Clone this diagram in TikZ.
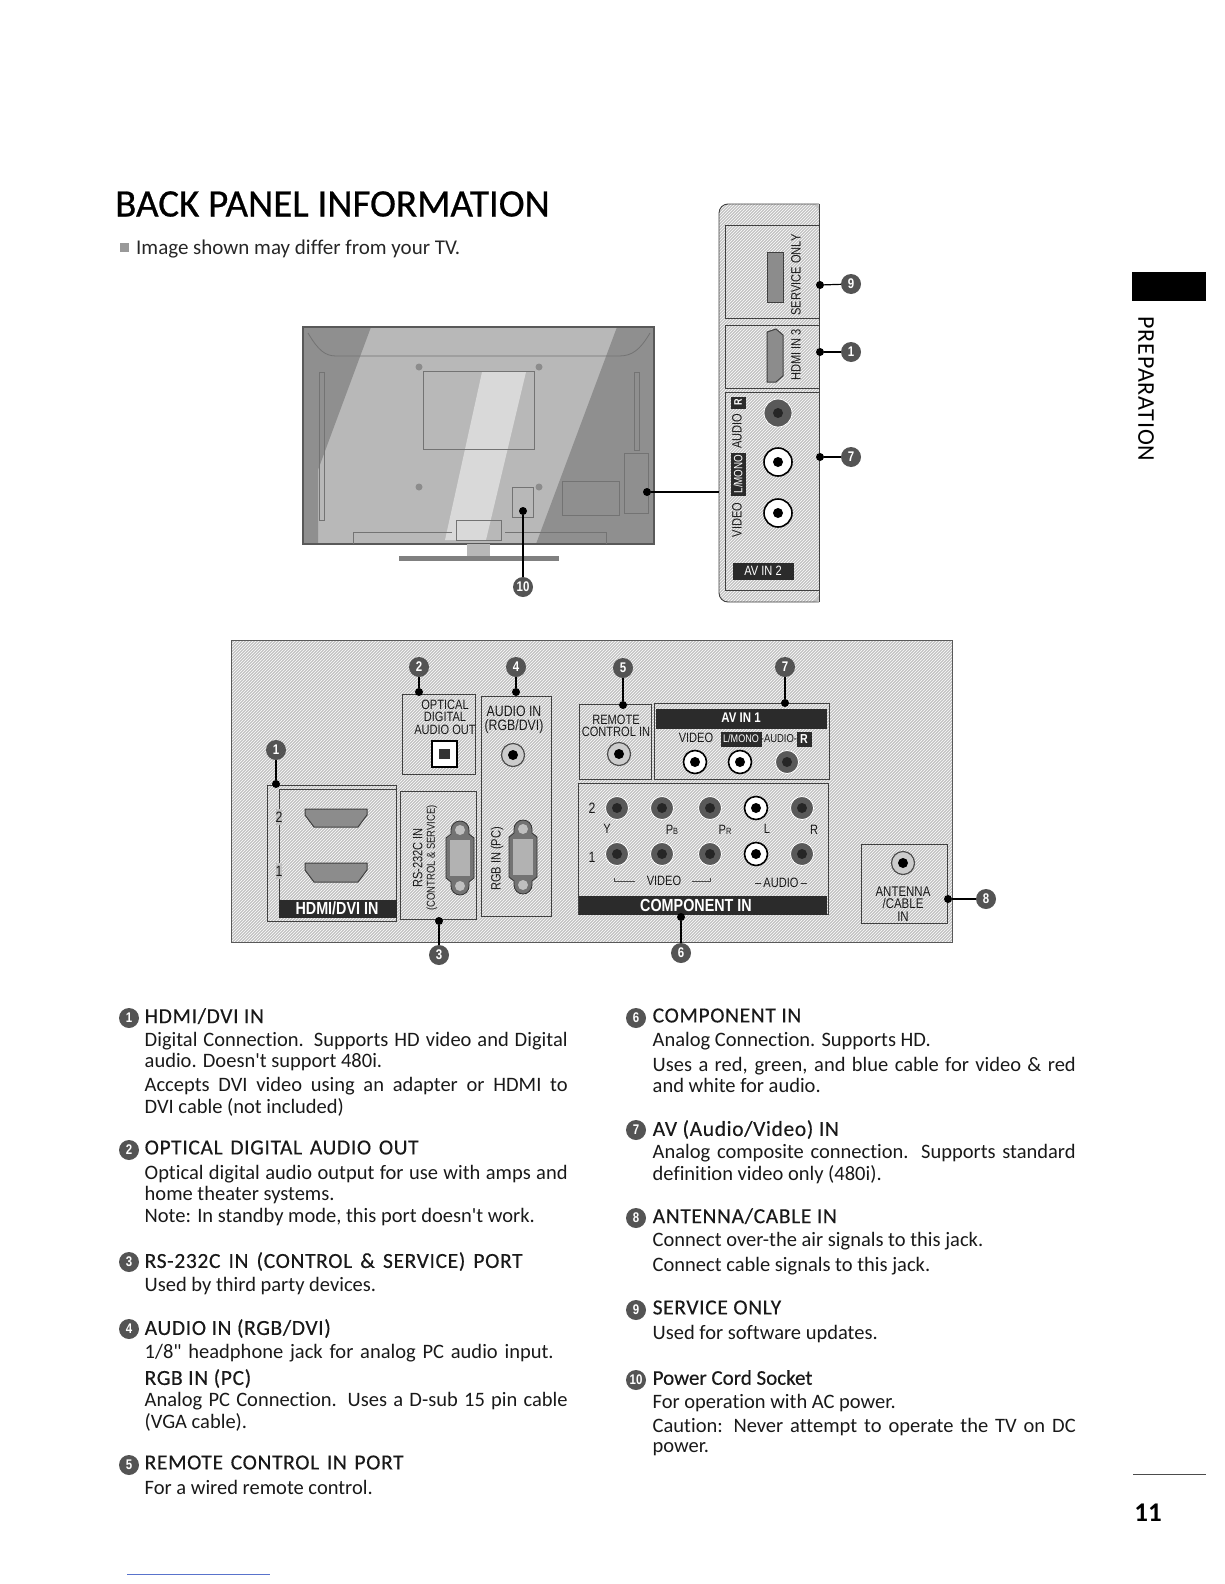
\documentclass[tikz,border=0pt]{standalone}
\usepackage{fontspec}
\usetikzlibrary{patterns}
\setmainfont[Ligatures={TeXOff,NoCommon}]{Carlito}
\newfontfamily\lblfont[FakeStretch=0.82]{Liberation Sans}
\definecolor{panelgray}{gray}{.76}
\definecolor{bargray}{gray}{.17}
\definecolor{numgray}{gray}{.33}
\definecolor{tvgray}{gray}{.72}
\definecolor{tvdark}{gray}{.56}
\definecolor{tvlight}{gray}{.85}
\definecolor{pagerule}{rgb}{.35,.45,.8}
\newcommand{\fit}[2]{\makebox[#1pt][s]{#2}}
\begin{document}
\begin{tikzpicture}[
x=1pt,y=-1pt,
bodytxt/.style={anchor=north west,inner sep=0,align=left,font=\fontsize{20.5}{20.3}\selectfont,text=black!90},
headtxt/.style={bodytxt,font=\fontsize{21.5}{20.3}\selectfont\addfontfeature{LetterSpace=3,FakeBold=.3}},
num/.style={circle,fill=numgray,text=white,inner sep=0,minimum size=20pt,font=\lblfont\bfseries\fontsize{14}{14}\selectfont},
dot/.style={circle,fill=black,inner sep=0,minimum size=8pt},
conn/.style={line width=1.2pt},
lbl/.style={inner sep=0,align=center,text=black!90,font=\lblfont\fontsize{13.5}{12.5}\selectfont},
barlbl/.style={inner sep=0,text=white,font=\lblfont\bfseries\fontsize{17.5}{17.5}\selectfont},
box/.style={draw=black!75,line width=.9pt},
bar/.style={fill=bargray,draw=bargray},
port/.style={draw=black!75,fill=black!45,line width=1pt},
faint/.style={draw=black!55,line width=.5pt},
hatch/.style={pattern=north east lines,pattern color=white},
jackw/.style={circle,inner sep=0,minimum size=23pt,draw=black,line width=1.6pt,fill=white,
 path picture={\fill[black] (path picture bounding box.center) circle (5pt);}},
jackd/.style={circle,inner sep=0,minimum size=23pt,draw=white,line width=.8pt,fill=black!65,
 path picture={\fill[black!85] (path picture bounding box.center) circle (5pt);}},
jackg/.style={circle,inner sep=0,minimum size=23pt,draw=black!70,line width=1.2pt,fill=black!20,
 path picture={\fill[black] (path picture bounding box.center) circle (5pt);}},
dsub/.pic={
 \draw[draw=black!80,fill=black!55,line width=.8pt] (-9,-28) arc[start angle=180,end angle=360,radius=9] -- (9,-24) -- (14,-20) -- (14,20) -- (9,24) -- (9,28) arc[start angle=0,end angle=180,radius=9] -- (-9,24) -- (-14,20) -- (-14,-20) -- (-9,-24) -- cycle;
 \fill[black!30] (-10,-18) rectangle (10,18);
 \fill[black!25] (0,-28) circle (5pt) (0,28) circle (5pt);
}
]
\useasboundingbox (0,0) rectangle (1224,1584);

% heading
\node[anchor=west,inner sep=0,font=\fontsize{39}{40}\selectfont\addfontfeature{FakeBold=.6}] (title) at (115,204) {BACK PANEL INFORMATION};
\fill[black!40] (120,243) rectangle (129,252);
\node[anchor=west,inner sep=0,font=\fontsize{21}{21}\selectfont,text=black!85] (note) at (136,249) {Image shown may differ from your TV.};

% tv back
\fill[tvgray] (303,327) rectangle (654,544);
\fill[tvdark] (303,327) -- (371,327) -- (318,470) -- (318,544) -- (303,544) -- cycle;
\fill[tvdark] (617,327) -- (654,327) -- (654,544) -- (536,544) -- cycle;
\fill[tvlight] (482,372) -- (526,372) -- (486,540) -- (445,540) -- cycle;
\draw[black!65,line width=1.5pt] (303,327) rectangle (654,544);
\draw[faint,line width=.8pt] (308,333) .. controls (318,350) and (325,356) .. (336,356) -- (619,356) .. controls (632,356) and (640,350) .. (650,333);
\draw[faint] (423,371) rectangle (534,449);
\draw[faint] (319,372) rectangle (324,520);
\draw[faint] (634,372) rectangle (639,450);
\draw[faint] (624,453) rectangle (648,513);
\draw[faint] (562,481) rectangle (619,515);
\draw[faint] (512,487) rectangle (533,517);
\draw[faint] (353,544) -- (353,532) -- (452,532);
\draw[faint] (606,544) -- (606,532) -- (505,532);
\draw[faint] (456,520) rectangle (501,540);
\fill[black!45] (419,367) circle (3.5pt) (539,367) circle (3.5pt) (419,487) circle (3.5pt) (539,487) circle (3.5pt);
\fill[tvgray] (467,544) rectangle (490,557);
\fill[black!50] (399,556) rectangle (559,561);

% side panel
\fill[panelgray,rounded corners=9pt] (823,204) -- (719,204) -- (719,602) -- (823,602) -- cycle;
\fill[white] (819,204) rectangle (824,602);
\path[hatch,rounded corners=9pt] (819,204) -- (719,204) -- (719,602) -- (819,602) -- cycle;
\draw[box,rounded corners=9pt] (819,204) -- (719,204) -- (719,602) -- (819,602);
\draw[box] (819,204) -- (819,602);
\draw[box] (725,225) rectangle (819,318);
\draw[box] (725,325) rectangle (819,388);
\draw[box] (725,392) rectangle (819,590);
\draw[port] (767,252) rectangle (783,302);
\draw[port] (767,332) -- (776,329) -- (783,335) -- (783,376) -- (776,382) -- (767,382) -- cycle;
\node[lbl,rotate=90] (service) at (796,275) {SERVICE ONLY};
\node[lbl,rotate=90] (hdmi3) at (796,355) {HDMI IN 3};
\node[lbl,rotate=90] (sidevideo) at (737,520) {VIDEO};
\draw[bar] (731,453) rectangle (745,495);
\node[lbl,rotate=90,text=white,font=\lblfont\fontsize{12}{12}\selectfont] (sidemono) at (738,474) {L/MONO};
\node[lbl,rotate=90] (sideaudio) at (737,431) {AUDIO};
\draw[bar] (731,397) rectangle (745,408);
\node[lbl,rotate=90,text=white,font=\lblfont\bfseries\fontsize{11}{11}\selectfont] (sider) at (738,402.5) {R};
\node[jackd,minimum size=28pt] (sj1) at (778,413) {};
\node[jackw,minimum size=28pt] (sj2) at (778,462) {};
\node[jackw,minimum size=28pt] (sj3) at (778,513) {};
\draw[bar] (733,563) rectangle (793,579);
\node[barlbl,font=\lblfont\fontsize{13.5}{13}\selectfont] (avin2) at (763,571) {AV IN 2};

% side numbers
\node[dot] (dot9) at (820,285) {};
\node[num] (num9) at (851,284) {9};
\node[dot] (dot1b) at (820,352) {};
\node[num] (num1b) at (851,352) {1};
\node[dot] (dot7b) at (820,457) {};
\node[num] (num7b) at (851,457) {7};
\draw[conn] (dot9)--(num9);
\draw[conn] (dot1b)--(num1b);
\draw[conn] (dot7b)--(num7b);
\node[dot] (dot10) at (523,511) {};
\node[num] (num10) at (523,587) {10};
\draw[conn] (dot10)--(num10);
\node[dot] (dottv) at (647,492) {};
\coordinate (tvport) at (719,492);
\draw[conn] (dottv)--(tvport);

% main panel
\fill[panelgray] (231,640) rectangle (952,942);
\path[hatch] (231,640) rectangle (952,942);
\draw[black!65,line width=1pt] (231,640) rectangle (952,942);

% hdmi
\draw[box] (267,785) rectangle (396,921);
\draw[box] (279,789) -- (396,789) -- (396,917) -- (279,917) -- cycle;
\draw[bar] (279,900) rectangle (396,917);
\node[barlbl] (hdmilbl) at (337,908) {HDMI/DVI IN};
\node[lbl,fill=panelgray,inner ysep=3pt,font=\lblfont\fontsize{15}{15}\selectfont] (hdmi2) at (279,817) {2};
\node[lbl,fill=panelgray,inner ysep=3pt,font=\lblfont\fontsize{15}{15}\selectfont] (hdmi1) at (279,871) {1};
\draw[port] (305,809) -- (367,809) -- (367,815) -- (358,827) -- (314,827) -- (305,815) -- cycle;
\draw[port] (305,863) -- (367,863) -- (367,870) -- (358,882) -- (314,882) -- (305,870) -- cycle;

% optical
\draw[box] (402,694) rectangle (475,774);
\node[lbl] (optical) at (445,717) {OPTICAL\\DIGITAL\\AUDIO OUT};
\draw[draw=black,fill=white,line width=2pt] (432,741) rectangle (457,767);
\fill[black!80] (439,749) rectangle (450,759);

% rs232
\draw[box] (400,791) rectangle (476,919);
\node[lbl,rotate=90] (rs232) at (425,858) {RS-232C IN\\{\fontsize{11.5}{12}\selectfont(CONTROL \& SERVICE)}};
\pic at (460,858) {dsub};

% audio in
\draw[box] (481,696) rectangle (551,916);
\node[lbl,font=\lblfont\fontsize{15}{14}\selectfont] (audioin) at (514,720) {AUDIO IN\\(RGB/DVI)};
\node[jackg] (audiojack) at (513,755) {};
\node[lbl,rotate=90] (rgbin) at (497,859) {RGB IN (PC)};
\pic at (523,857) {dsub};

% remote
\draw[box] (579,704) rectangle (651,779);
\node[lbl] (remote) at (616,726) {REMOTE\\CONTROL IN};
\node[jackg] (remotejack) at (619,754) {};

% av in 1
\draw[box] (654,703) rectangle (829,779);
\draw[bar] (656,709) rectangle (826,728);
\node[barlbl,font=\lblfont\bfseries\fontsize{14}{14}\selectfont] (avin1) at (741,718) {AV IN 1};
\node[lbl] (avvideo) at (696,738) {VIDEO};
\draw[bar] (721,732) rectangle (761,746);
\node[lbl,text=white,font=\lblfont\fontsize{11}{11}\selectfont] (avmono) at (741,739) {L/MONO};
\node[lbl,font=\lblfont\fontsize{11.5}{11}\selectfont] (avaudio) at (779,739) {-AUDIO-};
\draw[bar] (797,732) rectangle (811,746);
\node[lbl,text=white,font=\lblfont\bfseries\fontsize{13}{13}\selectfont] (avr) at (804,739) {R};
\node[jackw] (av1) at (695,762) {};
\node[jackw] (av2) at (740,762) {};
\node[jackd] (av3) at (787,762) {};

% component
\draw[box] (578,783) rectangle (828,914);
\draw[bar] (579,896) rectangle (826,914);
\node[barlbl] (complbl) at (696,905) {COMPONENT IN};
\node[lbl,font=\lblfont\fontsize{15}{15}\selectfont] (row2) at (592,808) {2};
\node[lbl,font=\lblfont\fontsize{15}{15}\selectfont] (row1) at (592,857) {1};
\node[jackd] (c21) at (617,808) {};
\node[jackd] (c22) at (662,808) {};
\node[jackd] (c23) at (710,808) {};
\node[jackw] (c24) at (756,808) {};
\node[jackd] (c25) at (802,808) {};
\node[jackd] (c11) at (617,854) {};
\node[jackd] (c12) at (662,854) {};
\node[jackd] (c13) at (710,854) {};
\node[jackw] (c14) at (756,854) {};
\node[jackd] (c15) at (802,854) {};
\node[lbl] (ly) at (607,829) {Y};
\node[lbl] (lpb) at (672,830) {P{\fontsize{9}{9}\selectfont B}};
\node[lbl] (lpr) at (725,830) {P{\fontsize{9}{9}\selectfont R}};
\node[lbl] (ll) at (767,829) {L};
\node[lbl] (lr) at (814,830) {R};
\node[lbl] (compvideo) at (664,881) {VIDEO};
\node[lbl] (compaudio) at (781,883) {–\,AUDIO\,–};
\draw[black!70] (614,878) -- (614,881) -- (635,881);
\draw[black!70] (692,881) -- (710,881) -- (710,878);

% antenna
\draw[box] (861,844) rectangle (947,923);
\node[jackg] (antjack) at (903,863) {};
\node[lbl,font=\lblfont\fontsize{14}{12.5}\selectfont] (antenna) at (903,904) {ANTENNA\\/CABLE\\IN};

% panel numbers
\node[num] (num1) at (276,750) {1};
\node[dot] (dot1) at (276,784) {};
\node[num] (num2) at (419,667) {2};
\node[dot] (dot2) at (419,692) {};
\node[num] (num4) at (516,667) {4};
\node[dot] (dot4) at (516,692) {};
\node[num] (num5) at (623,668) {5};
\node[dot] (dot5) at (623,705) {};
\node[num] (num7) at (785,667) {7};
\node[dot] (dot7) at (785,703) {};
\node[num] (num3) at (439,955) {3};
\node[dot] (dot3) at (439,921) {};
\node[num] (num6) at (681,953) {6};
\node[dot] (dot6) at (681,917) {};
\node[num] (num8) at (986,899) {8};
\node[dot] (dot8) at (948,899) {};
\draw[conn] (num1)--(dot1);
\draw[conn] (num2)--(dot2);
\draw[conn] (num4)--(dot4);
\draw[conn] (num5)--(dot5);
\draw[conn] (num7)--(dot7);
\draw[conn] (num3)--(dot3);
\draw[conn] (num6)--(dot6);
\draw[conn] (num8)--(dot8);

% left column
\node[num] (li1) at (129,1018) {1};
\node[headtxt] (h1) at (144.5,1008) {\strut HDMI/DVI IN};
\node[bodytxt] (p1a) at (144.5,1032) {\strut\fit{423}{Digital Connection. Supports HD video and Digital}\\audio. Doesn't support 480i.};
\node[bodytxt] (p1b) at (144.5,1077) {\strut\fit{423}{Accepts DVI video using an adapter or HDMI to}\\DVI cable (not included)};
\node[num] (li2) at (129,1150) {2};
\node[headtxt] (h2) at (144.5,1140) {\strut\fit{274}{OPTICAL DIGITAL AUDIO OUT}};
\node[bodytxt] (p2a) at (144.5,1165) {\strut\fit{423}{Optical digital audio output for use with amps and}\\home theater systems.};
\node[bodytxt] (p2b) at (144.5,1208) {\strut Note: In standby mode, this port doesn't work.};
\node[num] (li3) at (129,1262) {3};
\node[headtxt] (h3) at (144.5,1252) {\strut\fit{378}{RS-232C IN (CONTROL \& SERVICE) PORT}};
\node[bodytxt] (p3) at (144.5,1277) {\strut Used by third party devices.};
\node[num] (li4) at (129,1329) {4};
\node[headtxt] (h4) at (144.5,1319) {\strut AUDIO IN (RGB/DVI)};
\node[bodytxt] (p4a) at (144.5,1344) {\strut\fit{409}{1/8" headphone jack for analog PC audio input.}};
\node[headtxt] (h4b) at (144.5,1369) {\strut RGB IN (PC)};
\node[bodytxt] (p4b) at (144.5,1392) {\strut\fit{423}{Analog PC Connection. Uses a D-sub 15 pin cable}\\(VGA cable).};
\node[num] (li5) at (129,1465) {5};
\node[headtxt] (h5) at (144.5,1455) {\strut\fit{259}{REMOTE CONTROL IN PORT}};
\node[bodytxt] (p5) at (144.5,1480) {\strut For a wired remote control.};

% right column
\node[num] (li6) at (636,1018) {6};
\node[headtxt] (h6) at (652.5,1008) {\strut COMPONENT IN};
\node[bodytxt] (p6a) at (652.5,1032) {\strut Analog Connection. Supports HD.};
\node[bodytxt] (p6b) at (652.5,1057) {\strut\fit{423}{Uses a red, green, and blue cable for video \& red}\\and white for audio.};
\node[num] (li7) at (636,1130) {7};
\node[headtxt] (h7) at (652.5,1120) {\strut AV (Audio/Video) IN};
\node[bodytxt] (p7) at (652.5,1144) {\strut\fit{423}{Analog composite connection. Supports standard}\\definition video only (480i).};
\node[num] (li8) at (636,1218) {8};
\node[headtxt] (h8) at (652.5,1208) {\strut ANTENNA/CABLE IN};
\node[bodytxt] (p8a) at (652.5,1232) {\strut Connect over-the air signals to this jack.};
\node[bodytxt] (p8b) at (652.5,1257) {\strut Connect cable signals to this jack.};
\node[num] (li9) at (636,1310) {9};
\node[headtxt] (h9) at (652.5,1300) {\strut SERVICE ONLY};
\node[bodytxt] (p9) at (652.5,1325) {\strut Used for software updates.};
\node[num] (li10) at (636,1380) {10};
\node[bodytxt,font=\fontsize{21}{20.3}\selectfont\addfontfeature{FakeBold=.3}] (h10) at (652.5,1370) {\strut Power Cord Socket};
\node[bodytxt] (p10a) at (652.5,1394) {\strut For operation with AC power.};
\node[bodytxt] (p10b) at (652.5,1418) {\strut\fit{423}{Caution: Never attempt to operate the TV on DC}\\power.};

% page furniture
\fill[black] (1132,272) rectangle (1206,301);
\node[rotate=-90,inner sep=0,font=\fontsize{24}{24}\selectfont\addfontfeature{LetterSpace=3.7}] (prep) at (1146,389) {PREPARATION};
\draw[black!70,line width=.8pt] (1133,1474) -- (1206,1474);
\node[inner sep=0,font=\bfseries\fontsize{27}{27}\selectfont] (pageno) at (1148,1513) {11};
\draw[pagerule,line width=.7pt] (127,1574) -- (270,1574);
\end{tikzpicture}
\end{document}
